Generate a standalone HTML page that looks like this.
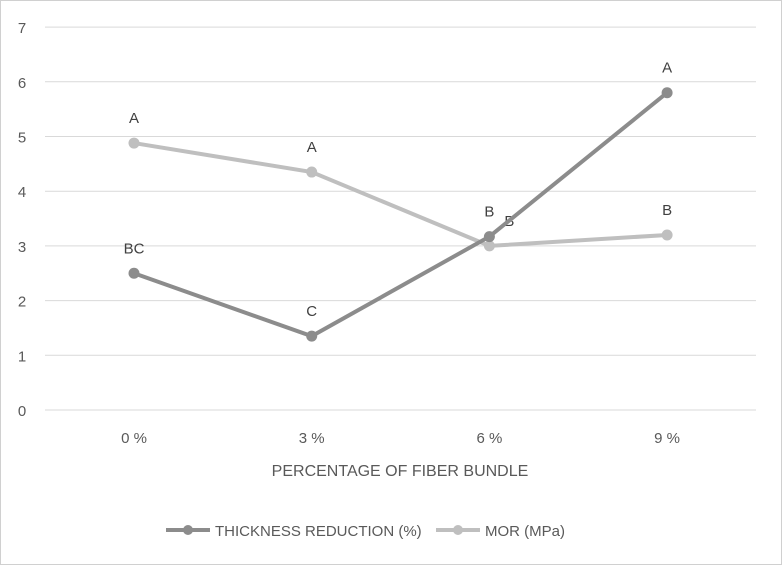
<!DOCTYPE html>
<html><head><meta charset="utf-8"><style>
body{margin:0;background:#fff}
svg{display:block;font-family:"Liberation Sans",sans-serif}
</style></head><body>
<svg id="chart" width="782" height="565">
<rect x="0.5" y="0.5" width="781" height="564" fill="#fff" stroke="#d0d0d0"/>
<g id="grid"></g><g id="series"></g>
<text x="400" y="476" text-anchor="middle" font-size="16" fill="#595959">PERCENTAGE OF FIBER BUNDLE</text>
<g>
<g>
<line x1="166" y1="530" x2="210" y2="530" stroke="#8c8c8c" stroke-width="4"/><circle cx="188" cy="530" r="5" fill="#8c8c8c"/>
<text x="215" y="536" font-size="15" fill="#595959">THICKNESS REDUCTION (%)</text></g>
<g>
<line x1="436" y1="530" x2="480" y2="530" stroke="#bfbfbf" stroke-width="4"/><circle cx="458" cy="530" r="5" fill="#bfbfbf"/>
<text x="485" y="536" font-size="15" fill="#595959">MOR (MPa)</text></g>
</g>
</svg>
<script>
const categories=["0 %","3 %","6 %","9 %"];
const yTicks=[0,1,2,3,4,5,6,7];
const thickness=[2.5,1.35,3.17,5.8];
const thicknessLabels=["BC","C","B","A"];
const mor=[4.88,4.35,3.0,3.2];
const morLabels=["A","A","B","B"];
const NS="http://www.w3.org/2000/svg";
const x=i=>134+i*177.7;
const y=v=>410-v*54.7;
function mk(t,a,p){const e=document.createElementNS(NS,t);for(const k in a)e.setAttribute(k,a[k]);p.appendChild(e);return e;}
const g=document.getElementById('grid');
yTicks.forEach(t=>{
 const l=mk('line',{x1:45,x2:756,y1:y(t),y2:y(t),stroke:'#d9d9d9','stroke-width':1},g);
 
 
 const tx=mk('text',{x:22,y:y(t)+6,'text-anchor':'middle','font-size':15,fill:'#595959'},g);
 tx.textContent=t;
 
 
});
categories.forEach((c,i)=>{
 const tx=mk('text',{x:x(i),y:443,'text-anchor':'middle','font-size':15,fill:'#595959'},g);
 tx.textContent=c;
 
 
});
const s=document.getElementById('series');
function draw(vals,labs,col,name,offs){
 const pl=mk('polyline',{points:vals.map((v,i)=>x(i)+','+y(v)).join(' '),fill:'none',stroke:col,'stroke-width':4},s);
 
 
 vals.forEach((v,i)=>{
  const c=mk('circle',{cx:x(i),cy:y(v),r:5.5,fill:col},s);
  
  
  const t=mk('text',{x:x(i)+offs[i],y:y(v)-20,'text-anchor':'middle','font-size':15,fill:'#404040'},s);
  t.textContent=labs[i];
  
  
 });
}
draw(mor,morLabels,'#bfbfbf','mor',[0,0,20,0]);
draw(thickness,thicknessLabels,'#8c8c8c','thickness',[0,0,0,0]);
</script>
</body></html>
